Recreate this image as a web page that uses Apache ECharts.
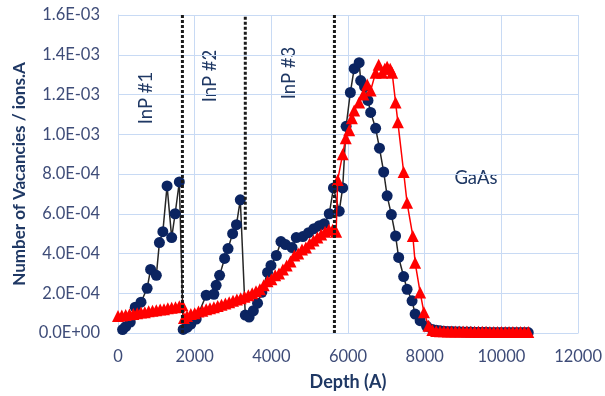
<!DOCTYPE html>
<html><head><meta charset="utf-8">
<script src="https://cdn.jsdelivr.net/npm/echarts@6/dist/echarts.min.js"></script>
<style>html,body{margin:0;padding:0;background:#fff}#c{width:605px;height:396px}</style>
</head><body><div id="c"></div>
<script>
// ---- data ----
const navyX = [120,200,320,450,600,760,850,1000,1080,1170,1280,1400,1490,1600,
  1700,1800,1900,2040,2300,2500,2560,2650,2780,2870,2990,3090,3190,
  3320,3420,3530,3640,3750,3900,3990,4130,4250,4370,4540,4650,4820,4970,5110,5250,5380,5510,5620,5770,5860,
  5950,6060,6160,6290,6330,6430,6520,6590,6720,6820,6930,7020,7130,7240,7320,7450,7540,7670,7750,7880,8050,8200,
  8300,8400,8500,8600,8700,8800,8900,9000,9100,9200,9300,9400,9500,9600,9700,9800,9900,10000,10100,10200,10300,10400,10500,10600,10700];
const navyY = [1.7e-5,3.2e-5,5.5e-5,1.3e-4,1.55e-4,2.25e-4,3.2e-4,2.9e-4,4.55e-4,5.1e-4,7.4e-4,4.8e-4,6.0e-4,7.6e-4,
  1.8e-5,2.8e-5,4.5e-5,7.0e-5,1.9e-4,1.95e-4,2.4e-4,2.9e-4,3.75e-4,4.25e-4,5.0e-4,5.45e-4,6.7e-4,
  9.0e-5,8.0e-5,1.12e-4,1.5e-4,2.05e-4,3.05e-4,3.4e-4,3.9e-4,4.6e-4,4.45e-4,4.3e-4,4.8e-4,4.85e-4,5.05e-4,5.25e-4,5.4e-4,5.5e-4,6.0e-4,7.3e-4,6.13e-4,7.3e-4,
  1.04e-3,1.21e-3,1.33e-3,1.36e-3,1.27e-3,1.24e-3,1.17e-3,1.11e-3,1.03e-3,9.3e-4,8.1e-4,6.9e-4,5.96e-4,4.88e-4,3.8e-4,2.84e-4,2.2e-4,1.62e-4,9.5e-5,6.2e-5,3.4e-5,1.8e-5,
  1.4e-5,1.1e-5,9e-6,8e-6,7e-6,6e-6,6e-6,5e-6,5e-6,5e-6,4e-6,4e-6,4e-6,4e-6,3e-6,3e-6,3e-6,3e-6,3e-6,2e-6,2e-6,2e-6,2e-6,2e-6,2e-6];

const redX = [0,100,200,300,400,500,600,700,800,900,1000,1100,1200,1300,1400,1500,1600,1680,
  1720,1800,1900,2000,2100,2200,2300,2400,2500,2600,2700,2800,2900,3000,3100,3200,3300,
  3400,3500,3600,3700,3800,3900,4000,4100,4200,4300,4400,4500,4600,4700,4800,4900,5000,5100,5200,5300,5400,5500,5600,5690,
  5730,5860,5940,6030,6100,6160,6290,6400,6500,6590,6720,6800,6890,6960,7020,7100,7150,7240,7300,7450,7540,7690,7750,7880,7980,8100,8200,
  8300,8400,8500,8600,8700,8800,8900,9000,9100,9200,9300,9400,9500,9600,9700,9800,9900,10000,10100,10200,10300,10400,10500,10600,10700];
const redY = [8.5e-5,8.8e-5,9.0e-5,9.4e-5,9.6e-5,1.0e-4,1.03e-4,1.05e-4,1.09e-4,1.12e-4,1.14e-4,1.18e-4,1.2e-4,1.24e-4,1.27e-4,1.3e-4,1.35e-4,1.4e-4,
  7.5e-5,8.5e-5,9.5e-5,1.0e-4,1.08e-4,1.12e-4,1.2e-4,1.25e-4,1.3e-4,1.36e-4,1.42e-4,1.48e-4,1.55e-4,1.62e-4,1.68e-4,1.75e-4,1.82e-4,
  1.9e-4,2.0e-4,2.1e-4,2.2e-4,2.4e-4,2.6e-4,2.7e-4,2.9e-4,3.0e-4,3.2e-4,3.4e-4,3.6e-4,3.9e-4,4.0e-4,4.2e-4,4.3e-4,4.5e-4,4.65e-4,4.8e-4,4.95e-4,5.1e-4,5.2e-4,5.2e-4,5.1e-4,
  7.7e-4,9.0e-4,9.8e-4,1.02e-3,1.08e-3,1.12e-3,1.16e-3,1.2e-3,1.25e-3,1.22e-3,1.31e-3,1.35e-3,1.31e-3,1.33e-3,1.34e-3,1.33e-3,1.31e-3,1.16e-3,1.06e-3,8.1e-4,6.55e-4,4.88e-4,3.54e-4,2.04e-4,1.04e-4,3.7e-5,1.5e-5,
  1.0e-5,9e-6,9e-6,8e-6,8e-6,8e-6,7e-6,7e-6,7e-6,6e-6,6e-6,6e-6,6e-6,6e-6,5e-6,5e-6,5e-6,5e-6,5e-6,5e-6,5e-6,5e-6,5e-6,5e-6,5e-6];

const boundaryX = [1680, 3320, 5645];
const boundaryTop = [1.6e-3, 1.6e-3, 1.6e-3];
const boundaryBottom = [0, 5.2e-4, 0];

const layerLabels = ['InP #1', 'InP #2', 'InP #3', 'GaAs'];
const xTicks = {min: 0, max: 12000, step: 2000};
const yTicks = {min: 0, max: 1.6e-3, step: 2e-4};

// ---- chart ----
function fmtE(v){
  const s = Number(v).toExponential(1);
  const [m, e] = s.split('e');
  const sign = e[0] === '-' ? '-' : '+';
  const d = e.replace(/^[+-]/, '').padStart(2, '0');
  return m + 'E' + sign + d;
}
const zip = (a, b) => a.map((x, i) => [x, b[i]]);
const font = 'Lato, "Open Sans", sans-serif';
const labelColor = '#3E4C78';
const titleColor = '#1F3864';
const gridColor = '#C8DAF4';

const series = [
  {type:'line', data: zip(navyX, navyY), symbol:'circle', symbolSize:11,
   itemStyle:{color:'#0B2461', borderWidth:0},
   lineStyle:{color:'#262626', width:1.5}, z:3, animation:false},
  {type:'line', data: zip(redX, redY), symbol:'triangle', symbolSize:12,
   itemStyle:{color:'#FF0000', borderWidth:0},
   lineStyle:{color:'#FF0000', width:1.5}, z:4, animation:false}
];
boundaryX.forEach((bx, i) => {
  series.push({type:'line', data:[[bx, boundaryBottom[i]], [bx, boundaryTop[i]]], symbol:'none',
    lineStyle:{color:'#1a1a1a', width:3, type:[3,2]}, z:5, animation:false, silent:true});
});

const annFont = '18.5px ' + font;
const chart = echarts.init(document.getElementById('c'));
chart.setOption({
  animation:false,
  grid:{left:118, right:23, top:15, bottom:62, containLabel:false},
  xAxis:{type:'value', min:xTicks.min, max:xTicks.max, interval:xTicks.step,
    name:'Depth (A)', nameLocation:'middle', nameGap:40,
    nameTextStyle:{color:titleColor, fontSize:18, fontWeight:'bold', fontFamily:font},
    axisLine:{show:true, lineStyle:{color:gridColor}}, axisTick:{show:false},
    axisLabel:{color:labelColor, fontSize:16.5, fontFamily:font, margin:15, formatter:v => String(v)},
    splitLine:{show:true, lineStyle:{color:gridColor, width:1}}},
  yAxis:{type:'value', min:yTicks.min, max:yTicks.max, interval:yTicks.step,
    name:'Number of Vacancies / ions.A', nameLocation:'middle', nameGap:90,
    nameTextStyle:{color:titleColor, fontSize:17, fontWeight:'bold', fontFamily:font},
    axisLine:{show:true, lineStyle:{color:gridColor}}, axisTick:{show:false},
    axisLabel:{color:labelColor, fontSize:16.5, fontFamily:font, margin:18, formatter:fmtE},
    splitLine:{show:true, lineStyle:{color:gridColor, width:1}}},
  series: series,
  graphic:[
    {type:'text', x:146, y:98, rotation:Math.PI/2, style:{text:layerLabels[0], fill:titleColor, font:annFont, align:'center', verticalAlign:'middle'}},
    {type:'text', x:210, y:76, rotation:Math.PI/2, style:{text:layerLabels[1], fill:titleColor, font:annFont, align:'center', verticalAlign:'middle'}},
    {type:'text', x:289, y:73, rotation:Math.PI/2, style:{text:layerLabels[2], fill:titleColor, font:annFont, align:'center', verticalAlign:'middle'}},
    {type:'text', x:476, y:178, style:{text:layerLabels[3], fill:titleColor, font:annFont, align:'center', verticalAlign:'middle'}}
  ]
});
</script></body></html>
